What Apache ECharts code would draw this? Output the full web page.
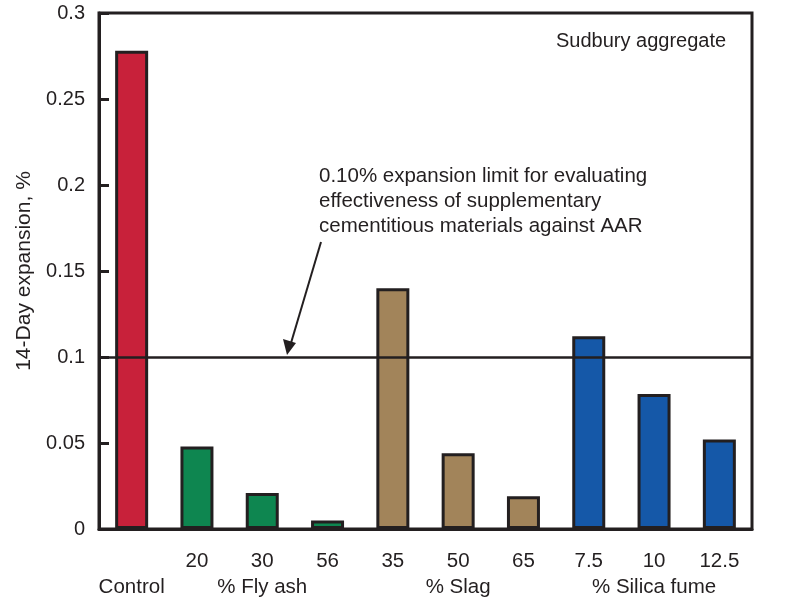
<!DOCTYPE html>
<html>
<head>
<meta charset="utf-8">
<script src="https://cdn.jsdelivr.net/npm/echarts@6/dist/echarts.min.js"></script>
<style>
  html, body { margin: 0; padding: 0; background: #fff; }
  #main { width: 787px; height: 609px; }
</style>
</head>
<body>
<div id="main"></div>
<script>
// first row of x labels (mix percentages), second row is the group name
const tickLabels = ['', '20', '30', '56', '35', '50', '65', '7.5', '10', '12.5'];
const groupLabels = ['Control', '', '% Fly ash', '', '', '% Slag', '', '', '% Silica fume', ''];
const groupOf = ['control', 'flyash', 'flyash', 'flyash', 'slag', 'slag', 'slag', 'silica', 'silica', 'silica'];
const expansion = [0.278, 0.048, 0.021, 0.005, 0.140, 0.044, 0.019, 0.112, 0.0785, 0.052];
const yTicks = [0, 0.05, 0.1, 0.15, 0.2, 0.25, 0.3];
const limit = 0.1;

const colors = {
    control: '#c8213a',
    flyash: '#0e8650',
    slag: '#a2845a',
    silica: '#1558a8'
};
const ink = '#231f20';
const font = 'Liberation Sans, Arial, Helvetica, sans-serif';

const chart = echarts.init(document.getElementById('main'), null, { renderer: 'canvas' });

let option = {
    animation: false,
    backgroundColor: '#fff',
    textStyle: { fontFamily: font, color: ink },
    grid: {
        left: 99,
        right: 35,
        top: 13,
        bottom: 80,
        show: true,
        borderColor: ink,
        borderWidth: 3,
        backgroundColor: 'transparent'
    },
    xAxis: {
        type: 'category',
        data: tickLabels,
        axisLine: { show: true, lineStyle: { color: ink, width: 3 } },
        axisTick: { show: false },
        axisLabel: {
            margin: 19,
            color: ink,
            fontSize: 20.5,
            lineHeight: 26,
            fontFamily: font,
            interval: 0,
            formatter: (v, i) => v + '\n' + groupLabels[i]
        }
    },
    yAxis: {
        type: 'value',
        min: yTicks[0],
        max: yTicks[yTicks.length - 1],
        interval: 0.05,
        name: '14-Day expansion, %',
        nameLocation: 'middle',
        nameGap: 62,
        nameTextStyle: { fontSize: 21, color: ink, fontFamily: font },
        axisLine: { show: true, lineStyle: { color: ink, width: 3 } },
        axisTick: { show: true, inside: true, length: 10, lineStyle: { color: ink, width: 3 } },
        splitLine: { show: false },
        axisLabel: {
            color: ink,
            fontSize: 20,
            margin: 14,
            fontFamily: font,
            formatter: v => String(+v.toFixed(2))
        }
    },
    series: [{
        type: 'bar',
        barWidth: 33,
        data: expansion.map((v, i) => ({
            value: v,
            itemStyle: { color: colors[groupOf[i]] }
        })),
        itemStyle: { borderColor: ink, borderWidth: 3 },
        markLine: {
            silent: true,
            symbol: ['none', 'none'],
            label: { show: false },
            lineStyle: { color: ink, width: 2.5, type: 'solid' },
            data: [{ yAxis: limit }]
        }
    }],
    graphic: [
        {
            type: 'text',
            left: 556,
            top: 31,
            style: { text: 'Sudbury aggregate', font: '20px ' + font, fill: ink }
        },
        {
            type: 'text',
            left: 319,
            top: 164,
            style: {
                text: '0.10% expansion limit for evaluating\neffectiveness of supplementary\ncementitious materials against AAR',
                font: '20.5px ' + font,
                lineHeight: 25,
                fill: ink
            }
        },
        {
            type: 'line',
            shape: { x1: 321, y1: 242, x2: 291, y2: 343 },
            style: { stroke: ink, lineWidth: 2 }
        },
        {
            type: 'polygon',
            shape: { points: [[287, 355], [283, 339], [296, 343]] },
            style: { fill: ink }
        }
    ]
};
chart.setOption(option);
</script>
</body>
</html>
